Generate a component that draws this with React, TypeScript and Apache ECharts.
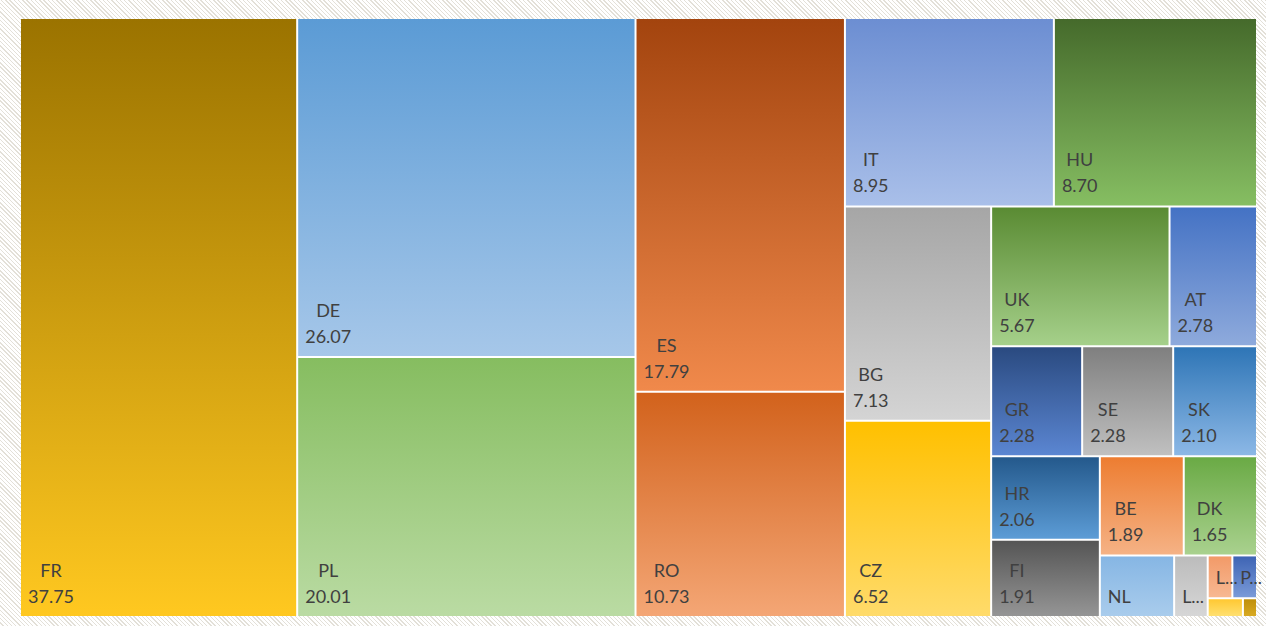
import React, { useEffect, useRef } from 'react';
import * as echarts from 'echarts';

// Country codes (in descending order of value, as in the reference treemap)
const names = ['FR', 'DE', 'PL', 'ES', 'RO', 'IT', 'HU', 'BG', 'CZ', 'UK', 'AT', 'GR', 'SE', 'SK', 'HR', 'FI', 'BE', 'DK', 'NL', 'LT', 'LV', 'PT', 'SI', 'EE'];
// Values read from the tiles (the smallest ones estimated from tile areas)
const values = [37.75, 26.07, 20.01, 17.79, 10.73, 8.95, 8.70, 7.13, 6.52, 5.67, 2.78, 2.28, 2.28, 2.10, 2.06, 1.91, 1.89, 1.65, 1.04, 0.47, 0.24, 0.24, 0.15, 0.06];

// Gradient palette: top colour and bottom colour of each tile
const topColors = ['#9b7300', '#5b9bd5', '#86bd60', '#a3440e', '#d2621c', '#6c8ed2', '#456a2b', '#a6a6a6', '#ffc000', '#5a8b33', '#4472c4', '#2a4a80', '#7f7f7f', '#2e75b6', '#24598c', '#555555', '#ed7d31', '#6aaa45', '#86b6e4', '#bcbcbc', '#f29a68', '#3e64b4', '#ffc832', '#bf8f0c'];
const bottomColors = ['#ffc820', '#a6c7e9', '#badba3', '#f0894b', '#f4a675', '#a9bfe9', '#86be62', '#d4d4d4', '#ffdb6a', '#a5d08a', '#8eaadc', '#5b86d2', '#c0c0c0', '#8cb8e6', '#5c9cd6', '#959595', '#f5b285', '#a9d18e', '#a9ccec', '#d6d6d6', '#f7b892', '#7a9ad8', '#ffe070', '#d9aa22'];

const FONT = 'Lato';
const FONT_SIZE = 18;

export default function App() {
  const ref = useRef<HTMLDivElement>(null);

  useEffect(() => {
    document.body.style.margin = '0';
    if (!ref.current) return;
    const chart = echarts.init(ref.current, null, { renderer: 'svg' });

    const canvas = document.createElement('canvas');
    const ctx = canvas.getContext('2d')!;
    ctx.font = `${FONT_SIZE}px ${FONT}`;
    const measure = (t: string) => ctx.measureText(t).width;

    const data = names.map((n, i) => {
      const v = values[i];
      const mode = v >= 1.5 ? 'full' : v >= 0.8 ? 'name' : v >= 0.2 ? 'short' : 'none';
      const text =
        mode === 'full' ? `${n}\n${v.toFixed(2)}` : mode === 'name' ? n : mode === 'short' ? `${n[0]}...` : '';
      const w = text ? Math.max(...text.split('\n').map(measure)) : 0;
      return {
        name: n,
        value: v,
        itemStyle: {
          color: new echarts.graphic.LinearGradient(0, 0, 0, 1, [
            { offset: 0, color: topColors[i] },
            { offset: 1, color: bottomColors[i] },
          ]),
        },
        label: {
          show: mode !== 'none',
          formatter: text,
          offset: [w / 2, 0],
        },
      };
    });

    chart.setOption({
      animation: false,
      series: [
        {
          type: 'treemap',
          left: 21,
          top: 19,
          width: 1235,
          height: 597,
          roam: false,
          nodeClick: false,
          breadcrumb: { show: false },
          squareRatio: 0.93,
          sort: false,
          visibleMin: 1,
          levels: [
            { itemStyle: { gapWidth: 2, borderWidth: 0, borderColor: '#ffffff' } },
            { itemStyle: { gapWidth: 0, borderWidth: 0 } },
          ],
          label: {
            show: true,
            position: 'insideBottomLeft',
            distance: 7,
            padding: 0,
            align: 'center',
            verticalAlign: 'bottom',
            fontFamily: FONT,
            fontSize: FONT_SIZE,
            lineHeight: 26,
            color: '#404040',
            overflow: 'none',
          },
          emphasis: { disabled: true },
          data,
        },
      ],
    });

    return () => chart.dispose();
  }, []);

  return (
    <div
      ref={ref}
      style={{
        width: 1266,
        height: 626,
        background:
          'repeating-linear-gradient(45deg, #ffffff 0px, #ffffff 2px, #e3e0d8 2px, #e3e0d8 3px)',
      }}
    />
  );
}
